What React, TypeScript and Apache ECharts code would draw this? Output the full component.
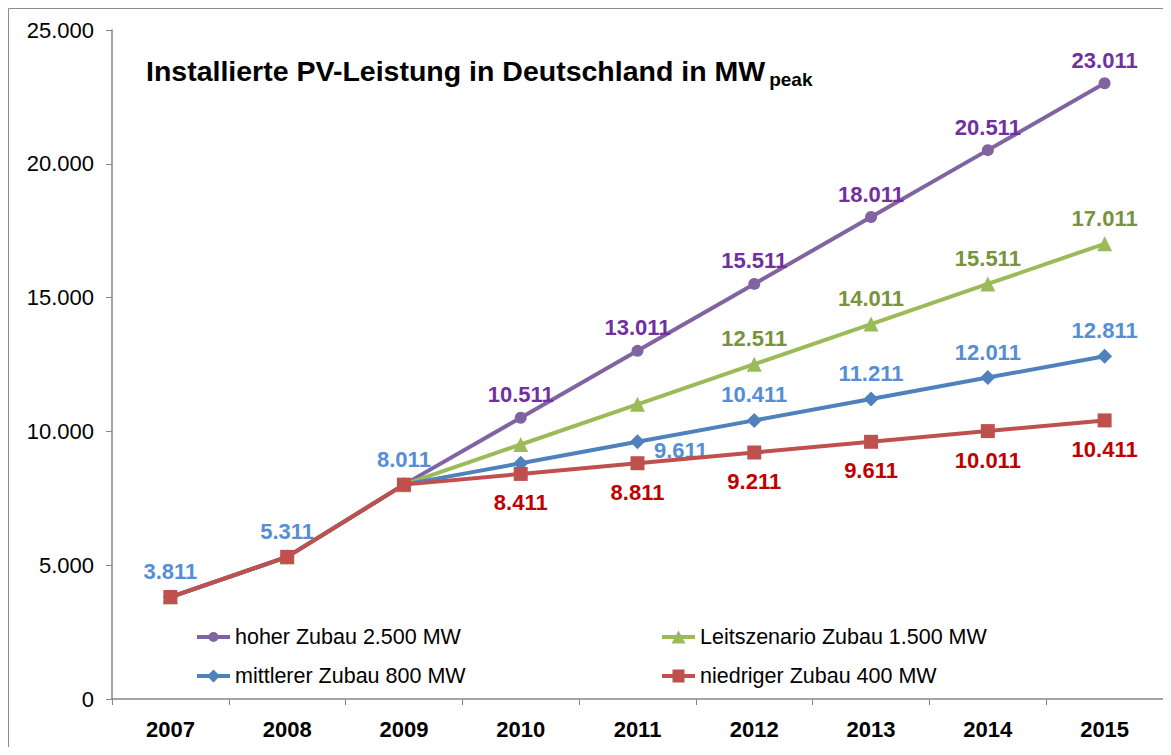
import React, { useEffect, useRef } from "react";
import * as echarts from "echarts";

const years = ["2007", "2008", "2009", "2010", "2011", "2012", "2013", "2014", "2015"];
const hoher = [3811, 5311, 8011, 10511, 13011, 15511, 18011, 20511, 23011];
const leit = [3811, 5311, 8011, 9511, 11011, 12511, 14011, 15511, 17011];
const mittlerer = [3811, 5311, 8011, 8811, 9611, 10411, 11211, 12011, 12811];
const niedriger = [3811, 5311, 8011, 8411, 8811, 9211, 9611, 10011, 10411];

const seriesNames = [
  "hoher Zubau 2.500 MW",
  "Leitszenario Zubau 1.500 MW",
  "mittlerer Zubau 800 MW",
  "niedriger Zubau 400 MW",
];

const titleMain = "Installierte PV-Leistung in Deutschland in MW";
const titleSub = "peak";

// which points carry a data label
const hoherLabeled = [3, 4, 5, 6, 7, 8];
const leitLabeled = [5, 6, 7, 8];
const mittlererLabeled = [0, 1, 2, 4, 5, 6, 7, 8];
const niedrigerLabeled = [3, 4, 5, 6, 7, 8];

const FONT = '"Liberation Sans", Arial, sans-serif';

const BAR = "M0,4.5 L33,4.5 L33,8.5 L0,8.5 Z ";
const legendIcons = [
  "path://" + BAR + "M16.5,1.5 A5,5 0 1 1 16.5,11.5 A5,5 0 1 1 16.5,1.5 Z M0,0 L0.01,0 Z M0,13 L0.01,13 Z",
  "path://" + BAR + "M16.5,0 L23.5,13 L9.5,13 Z",
  "path://" + BAR + "M16.5,0 L23,6.5 L16.5,13 L10,6.5 Z",
  "path://" + BAR + "M10.5,0 L22.5,0 L22.5,13 L10.5,13 Z",
];

const fmt = (v: number) => {
  const s = Math.round(v).toString();
  return s.replace(/\B(?=(\d{3})+(?!\d))/g, ".");
};

export default function App() {
  const ref = useRef<HTMLDivElement>(null);

  useEffect(() => {
    if (!ref.current) return;
    const chart = echarts.init(ref.current, undefined, { renderer: "svg" });

    let titleW = 615;
    try {
      const ctx = document.createElement("canvas").getContext("2d");
      if (ctx) {
        ctx.font = 'bold 28.5px "Liberation Sans", Arial, sans-serif';
        titleW = ctx.measureText(titleMain).width;
      }
    } catch (e) {}

    const labelBase = {
      show: true,
      fontFamily: FONT,
      fontSize: 22,
      fontWeight: "bold" as const,
      formatter: (p: any) => fmt(p.value),
    };

    const mk = (
      values: number[],
      labeled: number[],
      color: string,
      pos: string,
      dist: number,
      special?: Record<number, any>
    ) =>
      values.map((v, i) => {
        const show = labeled.indexOf(i) >= 0;
        const extra = special && special[i] ? special[i] : {};
        return {
          value: v,
          label: show
            ? { ...labelBase, color, position: pos, distance: dist, ...extra }
            : { show: false },
        };
      });

    const legendBase = {
      itemWidth: 33,
      itemHeight: 13,
      itemGap: 0,
      padding: 0,
      textStyle: { fontFamily: FONT, fontSize: 21.5, color: "#000" },
      orient: "horizontal" as const,
    };

    const option: any = {
      animation: false,
      backgroundColor: "#fff",
      grid: { left: 104, right: 8, top: 22, bottom: 48, containLabel: false },
      graphic: [
        {
          type: "polyline",
          shape: { points: [[0.5, 800], [0.5, 0.5], [1162.5, 0.5], [1162.5, 800]] },
          style: { stroke: "#8c8c8c", lineWidth: 1, fill: "none" },
          silent: true,
        },
        {
          type: "text",
          left: 138,
          top: 48,
          style: {
            text: titleMain,
            fontFamily: FONT,
            fontSize: 28.5,
            fontWeight: "bold",
            fill: "#000",
          },
        },
        {
          type: "text",
          left: 138 + titleW + 4,
          top: 62,
          style: {
            text: titleSub,
            fontFamily: FONT,
            fontSize: 19,
            fontWeight: "bold",
            fill: "#000",
          },
        },
      ],
      legend: [
        { ...legendBase, data: [{ name: seriesNames[0], icon: legendIcons[0] }], left: 189, top: 618 },
        { ...legendBase, data: [{ name: seriesNames[1], icon: legendIcons[1] }], left: 654, top: 618 },
        { ...legendBase, data: [{ name: seriesNames[2], icon: legendIcons[2] }], left: 189, top: 657 },
        { ...legendBase, data: [{ name: seriesNames[3], icon: legendIcons[3] }], left: 654, top: 657 },
      ],
      xAxis: {
        type: "category",
        data: years,
        boundaryGap: true,
        axisLine: { lineStyle: { color: "#868686", width: 1.5 } },
        axisTick: { show: true, length: 6, alignWithLabel: false, lineStyle: { color: "#868686" } },
        axisLabel: {
          fontFamily: FONT,
          fontSize: 22,
          fontWeight: "bold",
          color: "#000",
          margin: 19,
        },
        splitLine: { show: false },
      },
      yAxis: {
        type: "value",
        min: 0,
        max: 25000,
        interval: 5000,
        axisLine: { show: true, lineStyle: { color: "#868686", width: 1.5 } },
        axisTick: { show: true, length: 6, lineStyle: { color: "#868686" } },
        axisLabel: {
          fontFamily: FONT,
          fontSize: 22,
          color: "#000",
          margin: 18,
          formatter: (v: number) => fmt(v),
        },
        splitLine: { show: false },
      },
      series: [
        {
          name: seriesNames[0],
          type: "line",
          data: mk(hoher, hoherLabeled, "#7030A0", "top", 6),
          symbol: "circle",
          symbolSize: 12,
          itemStyle: { color: "#8064A2" },
          lineStyle: { color: "#8064A2", width: 4 },
          z: 2,
        },
        {
          name: seriesNames[1],
          type: "line",
          data: mk(leit, leitLabeled, "#77933C", "top", 7),
          symbol: "triangle",
          symbolSize: 15,
          itemStyle: { color: "#9BBB59" },
          lineStyle: { color: "#9BBB59", width: 4 },
          z: 3,
        },
        {
          name: seriesNames[2],
          type: "line",
          data: mk(mittlerer, mittlererLabeled, "#558ED5", "top", 7, {
            4: { position: "right", distance: 9, offset: [0, 9] },
          }),
          symbol: "diamond",
          symbolSize: 15,
          itemStyle: { color: "#4F81BD" },
          lineStyle: { color: "#4F81BD", width: 4 },
          z: 4,
        },
        {
          name: seriesNames[3],
          type: "line",
          data: mk(niedriger, niedrigerLabeled, "#C00000", "bottom", 11),
          symbol: "rect",
          symbolSize: 14,
          itemStyle: { color: "#C0504D" },
          lineStyle: { color: "#C0504D", width: 4 },
          z: 5,
        },
      ],
    };

    chart.setOption(option);
    return () => chart.dispose();
  }, []);

  return <div ref={ref} style={{ width: 1163, height: 739 }} />;
}
